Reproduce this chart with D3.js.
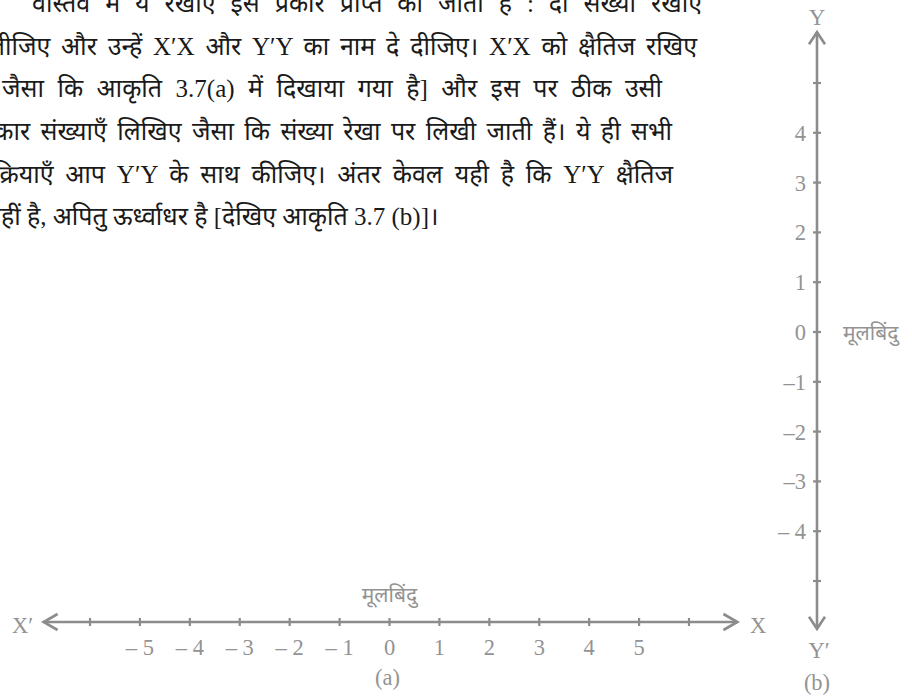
<!DOCTYPE html>
<html>
<head>
<meta charset="utf-8">
<script src="https://cdn.jsdelivr.net/npm/d3@7"></script>
<style>
  body { margin: 0; background: #fff; }
  svg { display: block; }
  .para { font-family: "Liberation Serif", "Noto Sans Devanagari", "Noto Serif Devanagari", serif; font-size: 25px; fill: #1a1a1a; }
  .axis-line { stroke: #8c8c8c; stroke-width: 2.6; fill: none; }
  .tick { stroke: #8c8c8c; stroke-width: 2.2; }
  .arrow { stroke: #8c8c8c; stroke-width: 2.6; fill: none; stroke-linejoin: miter; }
  .lbl { font-family: "Liberation Serif", serif; font-size: 22.5px; fill: #939393; }
  .hlbl { font-family: "Liberation Serif", "Noto Sans Devanagari", serif; font-size: 21px; fill: #939393; }
</style>
</head>
<body>
<svg width="912" height="698"></svg>
<script>
// पाठ की पंक्तियाँ
const paraLines = [
  "वास्तव में ये रेखाएँ इस प्रकार प्राप्त की जाती हैं : दो संख्या रेखाएँ",
  "लीजिए और उन्हें X′X और Y′Y का नाम दे दीजिए। X′X को क्षैतिज रखिए",
  "जैसा कि आकृति 3.7(a) में दिखाया गया है] और इस पर ठीक उसी",
  "प्रकार संख्याएँ लिखिए जैसा कि संख्या रेखा पर लिखी जाती हैं। ये ही सभी",
  "क्रियाएँ आप Y′Y के साथ कीजिए। अंतर केवल यही है कि Y′Y क्षैतिज",
  "नहीं है, अपितु ऊर्ध्वाधर है [देखिए आकृति 3.7 (b)]।"
];

// संख्या रेखा (a)
const xTickValues = [-6, -5, -4, -3, -2, -1, 0, 1, 2, 3, 4, 5, 6];
const xTickLabels = ["", "– 5", "– 4", "– 3", "– 2", "– 1", "0", "1", "2", "3", "4", "5", ""];

// संख्या रेखा (b)
const yTickValues = [-5, -4, -3, -2, -1, 0, 1, 2, 3, 4, 5];
const yTickLabels = ["", "– 4", "–3", "–2", "–1", "0", "1", "2", "3", "4", ""];

const originLabel = "मूलबिंदु";

const svg = d3.select("svg");
const width = +svg.attr("width");
const height = +svg.attr("height");

svg.append("rect").attr("width", width).attr("height", height).attr("fill", "#fff");

// पंक्तियों की जगह (बायाँ किनारा, दायाँ किनारा, baseline)
const lineLayout = [
  {x0: 32, x1: 702, y: 12},
  {x0: -12, x1: 697, y: 55},
  {x0: 2, x1: 662, y: 97},
  {x0: -20, x1: 672, y: 140},
  {x0: -7, x1: 673, y: 183},
  {x0: -13, x1: null, y: 225}
];

const para = svg.append("g");
para.selectAll("text")
  .data(paraLines)
  .enter()
  .append("text")
  .attr("class", "para")
  .attr("x", (d, i) => lineLayout[i].x0)
  .attr("y", (d, i) => lineLayout[i].y)
  .text(d => d)
  .each(function(d, i) {
    // शब्दों के बीच जगह बढ़ाकर पंक्ति को दायें किनारे तक फैलाना
    const l = lineLayout[i];
    if (l.x1 == null) return;
    const natural = this.getComputedTextLength();
    const gaps = d.split(" ").length - 1;
    const ws = Math.max(0, (l.x1 - l.x0 - natural) / gaps);
    d3.select(this).attr("word-spacing", ws);
  });

// ---- (a) क्षैतिज रेखा ----
const x = d3.scaleLinear().domain([-6, 6]).range([90, 689]);
const hy = 622;
const gx = svg.append("g");

gx.append("line")
  .attr("class", "axis-line")
  .attr("x1", x(-6.93)).attr("x2", x(6.97))
  .attr("y1", hy).attr("y2", hy);

gx.selectAll("line.tick")
  .data(xTickValues)
  .enter()
  .append("line")
  .attr("class", "tick")
  .attr("x1", d => x(d)).attr("x2", d => x(d))
  .attr("y1", hy - 4).attr("y2", hy + 4);

gx.selectAll("text.tl")
  .data(xTickValues)
  .enter()
  .append("text")
  .attr("class", "lbl tl")
  .attr("text-anchor", "middle")
  .attr("x", d => x(d))
  .attr("y", hy + 33)
  .text((d, i) => xTickLabels[i]);

// तीर
const lt = x(-6.93), rt = x(6.97);
gx.append("path").attr("class", "arrow")
  .attr("d", `M${lt + 14},${hy - 8}L${lt},${hy}L${lt + 14},${hy + 8}`);
gx.append("path").attr("class", "arrow")
  .attr("d", `M${rt - 14},${hy - 8}L${rt},${hy}L${rt - 14},${hy + 8}`);

gx.append("text").attr("class", "lbl").attr("x", 12).attr("y", hy + 11).text("X′");
gx.append("text").attr("class", "lbl").attr("x", 750).attr("y", hy + 11).text("X");
gx.append("text").attr("class", "hlbl").attr("text-anchor", "middle")
  .attr("x", x(0)).attr("y", hy - 20).text(originLabel);
gx.append("text").attr("class", "lbl").attr("text-anchor", "middle")
  .attr("x", x(0) - 2).attr("y", 685).text("(a)");

// ---- (b) ऊर्ध्वाधर रेखा ----
const y = d3.scaleLinear().domain([-5, 5]).range([581, 83]);
const vx = 817;
const gy = svg.append("g");

gy.append("line")
  .attr("class", "axis-line")
  .attr("x1", vx).attr("x2", vx)
  .attr("y1", y(6.02)).attr("y2", y(-5.96));

gy.selectAll("line.tick")
  .data(yTickValues)
  .enter()
  .append("line")
  .attr("class", "tick")
  .attr("x1", vx - 4).attr("x2", vx + 4)
  .attr("y1", d => y(d)).attr("y2", d => y(d));

gy.selectAll("text.tl")
  .data(yTickValues)
  .enter()
  .append("text")
  .attr("class", "lbl tl")
  .attr("text-anchor", "end")
  .attr("x", vx - 11)
  .attr("y", d => y(d) + 8)
  .text((d, i) => yTickLabels[i]);

const tt = y(6.02), bt = y(-5.96);
gy.append("path").attr("class", "arrow")
  .attr("d", `M${vx - 8},${tt + 12}L${vx},${tt}L${vx + 8},${tt + 12}`);
gy.append("path").attr("class", "arrow")
  .attr("d", `M${vx - 8},${bt - 12}L${vx},${bt}L${vx + 8},${bt - 12}`);

gy.append("text").attr("class", "lbl").attr("text-anchor", "middle")
  .attr("x", vx).attr("y", 25).text("Y");
gy.append("text").attr("class", "lbl").attr("text-anchor", "middle")
  .attr("x", vx + 2).attr("y", 658).text("Y′");
gy.append("text").attr("class", "lbl").attr("text-anchor", "middle")
  .attr("x", vx).attr("y", 690).text("(b)");
gy.append("text").attr("class", "hlbl")
  .attr("x", 843).attr("y", y(0) + 8).text(originLabel);
</script>
</body>
</html>
